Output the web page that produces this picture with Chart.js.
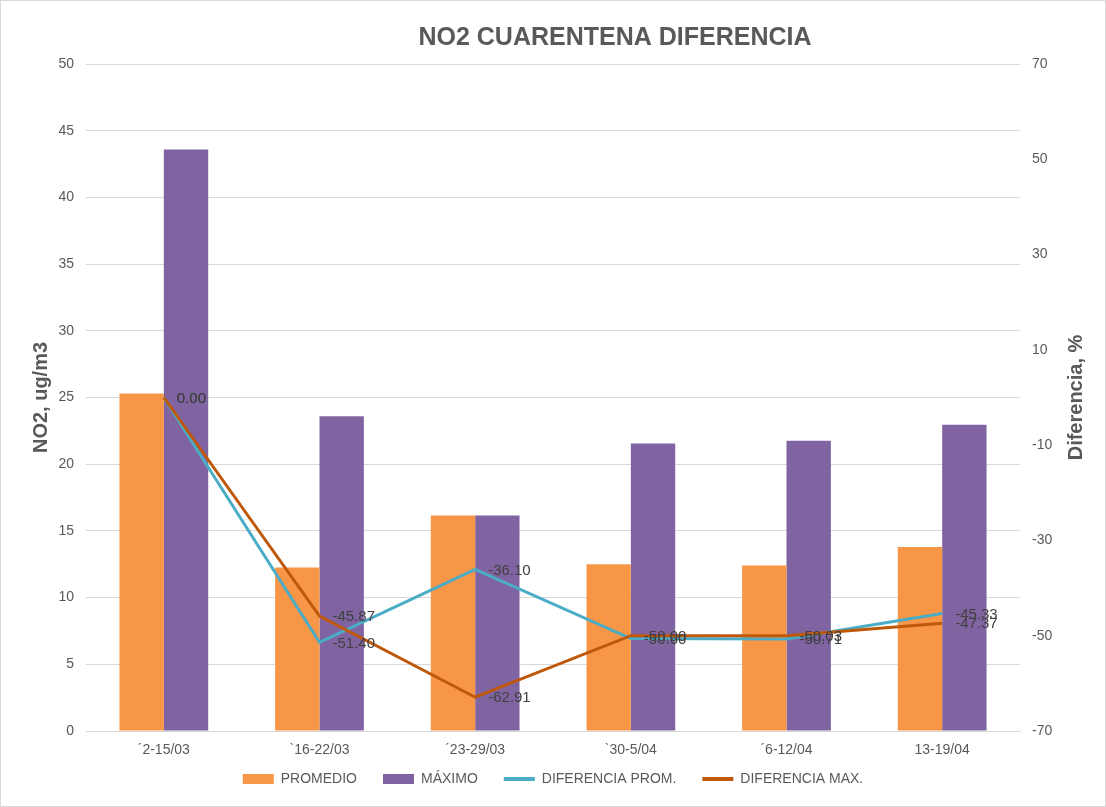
<!DOCTYPE html>
<html>
<head>
<meta charset="utf-8">
<script src="https://cdn.jsdelivr.net/npm/chart.js@4/dist/chart.umd.min.js"></script>
<style>
  html, body { margin: 0; padding: 0; background: #fff; }
  #wrap { width: 1106px; height: 807px; position: relative; }
</style>
</head>
<body>
<div id="wrap"><canvas id="no2Chart"></canvas></div>
<script>
// data
const weeks = ['´2-15/03', '`16-22/03', '´23-29/03', '`30-5/04', '´6-12/04', '13-19/04'];
const promedio = [25.3, 12.25, 16.15, 12.5, 12.4, 13.8];
const maximo = [43.6, 23.6, 16.15, 21.55, 21.75, 22.95];
const difProm = [0.00, -51.40, -36.10, -50.60, -50.71, -45.33];
const difMax = [0.00, -45.87, -62.91, -50.00, -50.03, -47.37];

const grey = '#595959';
const font = 'Arial, "Liberation Sans", sans-serif';

// point labels + titles + outer frame
const extras = {
    id: 'extras',
    afterLayout(chart) {
        // pull the legend up a bit (its padding is large for the horizontal gaps)
        chart.legend.top -= 17;
        chart.legend.bottom -= 17;
    },
    afterDatasetsDraw(chart) {
        const ctx = chart.ctx;
        ctx.save();
        ctx.font = '15px ' + font;
        ctx.fillStyle = '#404040';
        ctx.textAlign = 'left';
        ctx.textBaseline = 'middle';
        chart.data.datasets.forEach(function(ds, i) {
            if (ds.type !== 'line') return;
            chart.getDatasetMeta(i).data.forEach(function(pt, j) {
                ctx.fillText(ds.data[j].toFixed(2), pt.x + 13, pt.y + 1);
            });
        });
        ctx.restore();
    },
    afterDraw(chart) {
        const ctx = chart.ctx;
        const area = chart.chartArea;
        ctx.save();
        ctx.fillStyle = grey;
        ctx.textAlign = 'center';
        ctx.textBaseline = 'middle';
        ctx.font = 'bold 25px ' + font;
        ctx.fillText('NO2 CUARENTENA DIFERENCIA', 615, 38);

        ctx.font = 'bold 20px ' + font;
        const midY = (area.top + area.bottom) / 2;
        ctx.translate(41, midY);
        ctx.rotate(-Math.PI / 2);
        ctx.fillText('NO2, ug/m3', 0, 0);
        ctx.restore();

        ctx.save();
        ctx.fillStyle = grey;
        ctx.textAlign = 'center';
        ctx.textBaseline = 'middle';
        ctx.font = 'bold 20px ' + font;
        ctx.translate(1076, midY);
        ctx.rotate(-Math.PI / 2);
        ctx.fillText('Diferencia, %', 0, 0);
        ctx.restore();

        ctx.save();
        ctx.strokeStyle = '#d9d9d9';
        ctx.lineWidth = 1;
        ctx.strokeRect(0.5, 0.5, chart.width - 1, chart.height - 1);
        ctx.restore();
    }
};

new Chart(document.getElementById('no2Chart'), {
    data: {
        labels: weeks,
        datasets: [
            {
                type: 'line', label: 'DIFERENCIA PROM.', data: difProm, yAxisID: 'y1',
                borderColor: '#4BACC6', backgroundColor: '#4BACC6', borderWidth: 3,
                pointRadius: 0, tension: 0, order: 1
            },
            {
                type: 'line', label: 'DIFERENCIA MAX.', data: difMax, yAxisID: 'y1',
                borderColor: '#C0580A', backgroundColor: '#C0580A', borderWidth: 3,
                pointRadius: 0, tension: 0, order: 0
            },
            {
                type: 'bar', label: 'PROMEDIO', data: promedio, yAxisID: 'y',
                backgroundColor: '#F79646', categoryPercentage: 0.57, barPercentage: 1.0, order: 2
            },
            {
                type: 'bar', label: 'MÁXIMO', data: maximo, yAxisID: 'y',
                backgroundColor: '#8064A2', categoryPercentage: 0.57, barPercentage: 1.0, order: 3
            }
        ]
    },
    options: {
        responsive: true,
        maintainAspectRatio: false,
        animation: false,
        layout: { padding: { top: 64, bottom: -6, left: 0, right: 0 } },
        plugins: {
            title: { display: false },
            tooltip: { enabled: false },
            legend: {
                position: 'bottom',
                labels: {
                    usePointStyle: true,
                    pointStyleWidth: 31,
                    boxHeight: 10,
                    padding: 26,
                    color: grey,
                    font: { size: 14, family: font },
                    sort: function(a, b) {
                        const rank = { 'PROMEDIO': 0, 'MÁXIMO': 1, 'DIFERENCIA PROM.': 2, 'DIFERENCIA MAX.': 3 };
                        return rank[a.text] - rank[b.text];
                    },
                    generateLabels: function(chart) {
                        const items = Chart.defaults.plugins.legend.labels.generateLabels(chart);
                        items.forEach(function(it) {
                            const ds = chart.data.datasets[it.datasetIndex];
                            it.pointStyle = ds.type === 'line' ? 'line' : 'rect';
                            if (ds.type === 'line') { it.lineWidth = 4; it.strokeStyle = ds.borderColor; }
                            else { it.lineWidth = 0; }
                        });
                        return items;
                    }
                }
            }
        },
        scales: {
            x: {
                offset: true,
                grid: { display: false },
                border: { display: true, color: '#d9d9d9' },
                ticks: { color: grey, font: { size: 14, family: font }, padding: 3, maxRotation: 0 },
                afterFit: function(s) { s.height = 32; }
            },
            y: {
                position: 'left',
                min: 0, max: 50,
                ticks: { stepSize: 5, color: grey, font: { size: 14, family: font }, padding: 12 },
                grid: { color: '#d9d9d9', drawTicks: false },
                border: { display: false },
                afterFit: function(s) { s.width = 86; }
            },
            y1: {
                position: 'right',
                min: -70, max: 70,
                ticks: { stepSize: 20, color: grey, font: { size: 14, family: font }, padding: 12 },
                grid: { display: false, drawTicks: false },
                border: { display: false },
                afterFit: function(s) { s.width = 86; }
            }
        }
    },
    plugins: [extras]
});
</script>
</body>
</html>
